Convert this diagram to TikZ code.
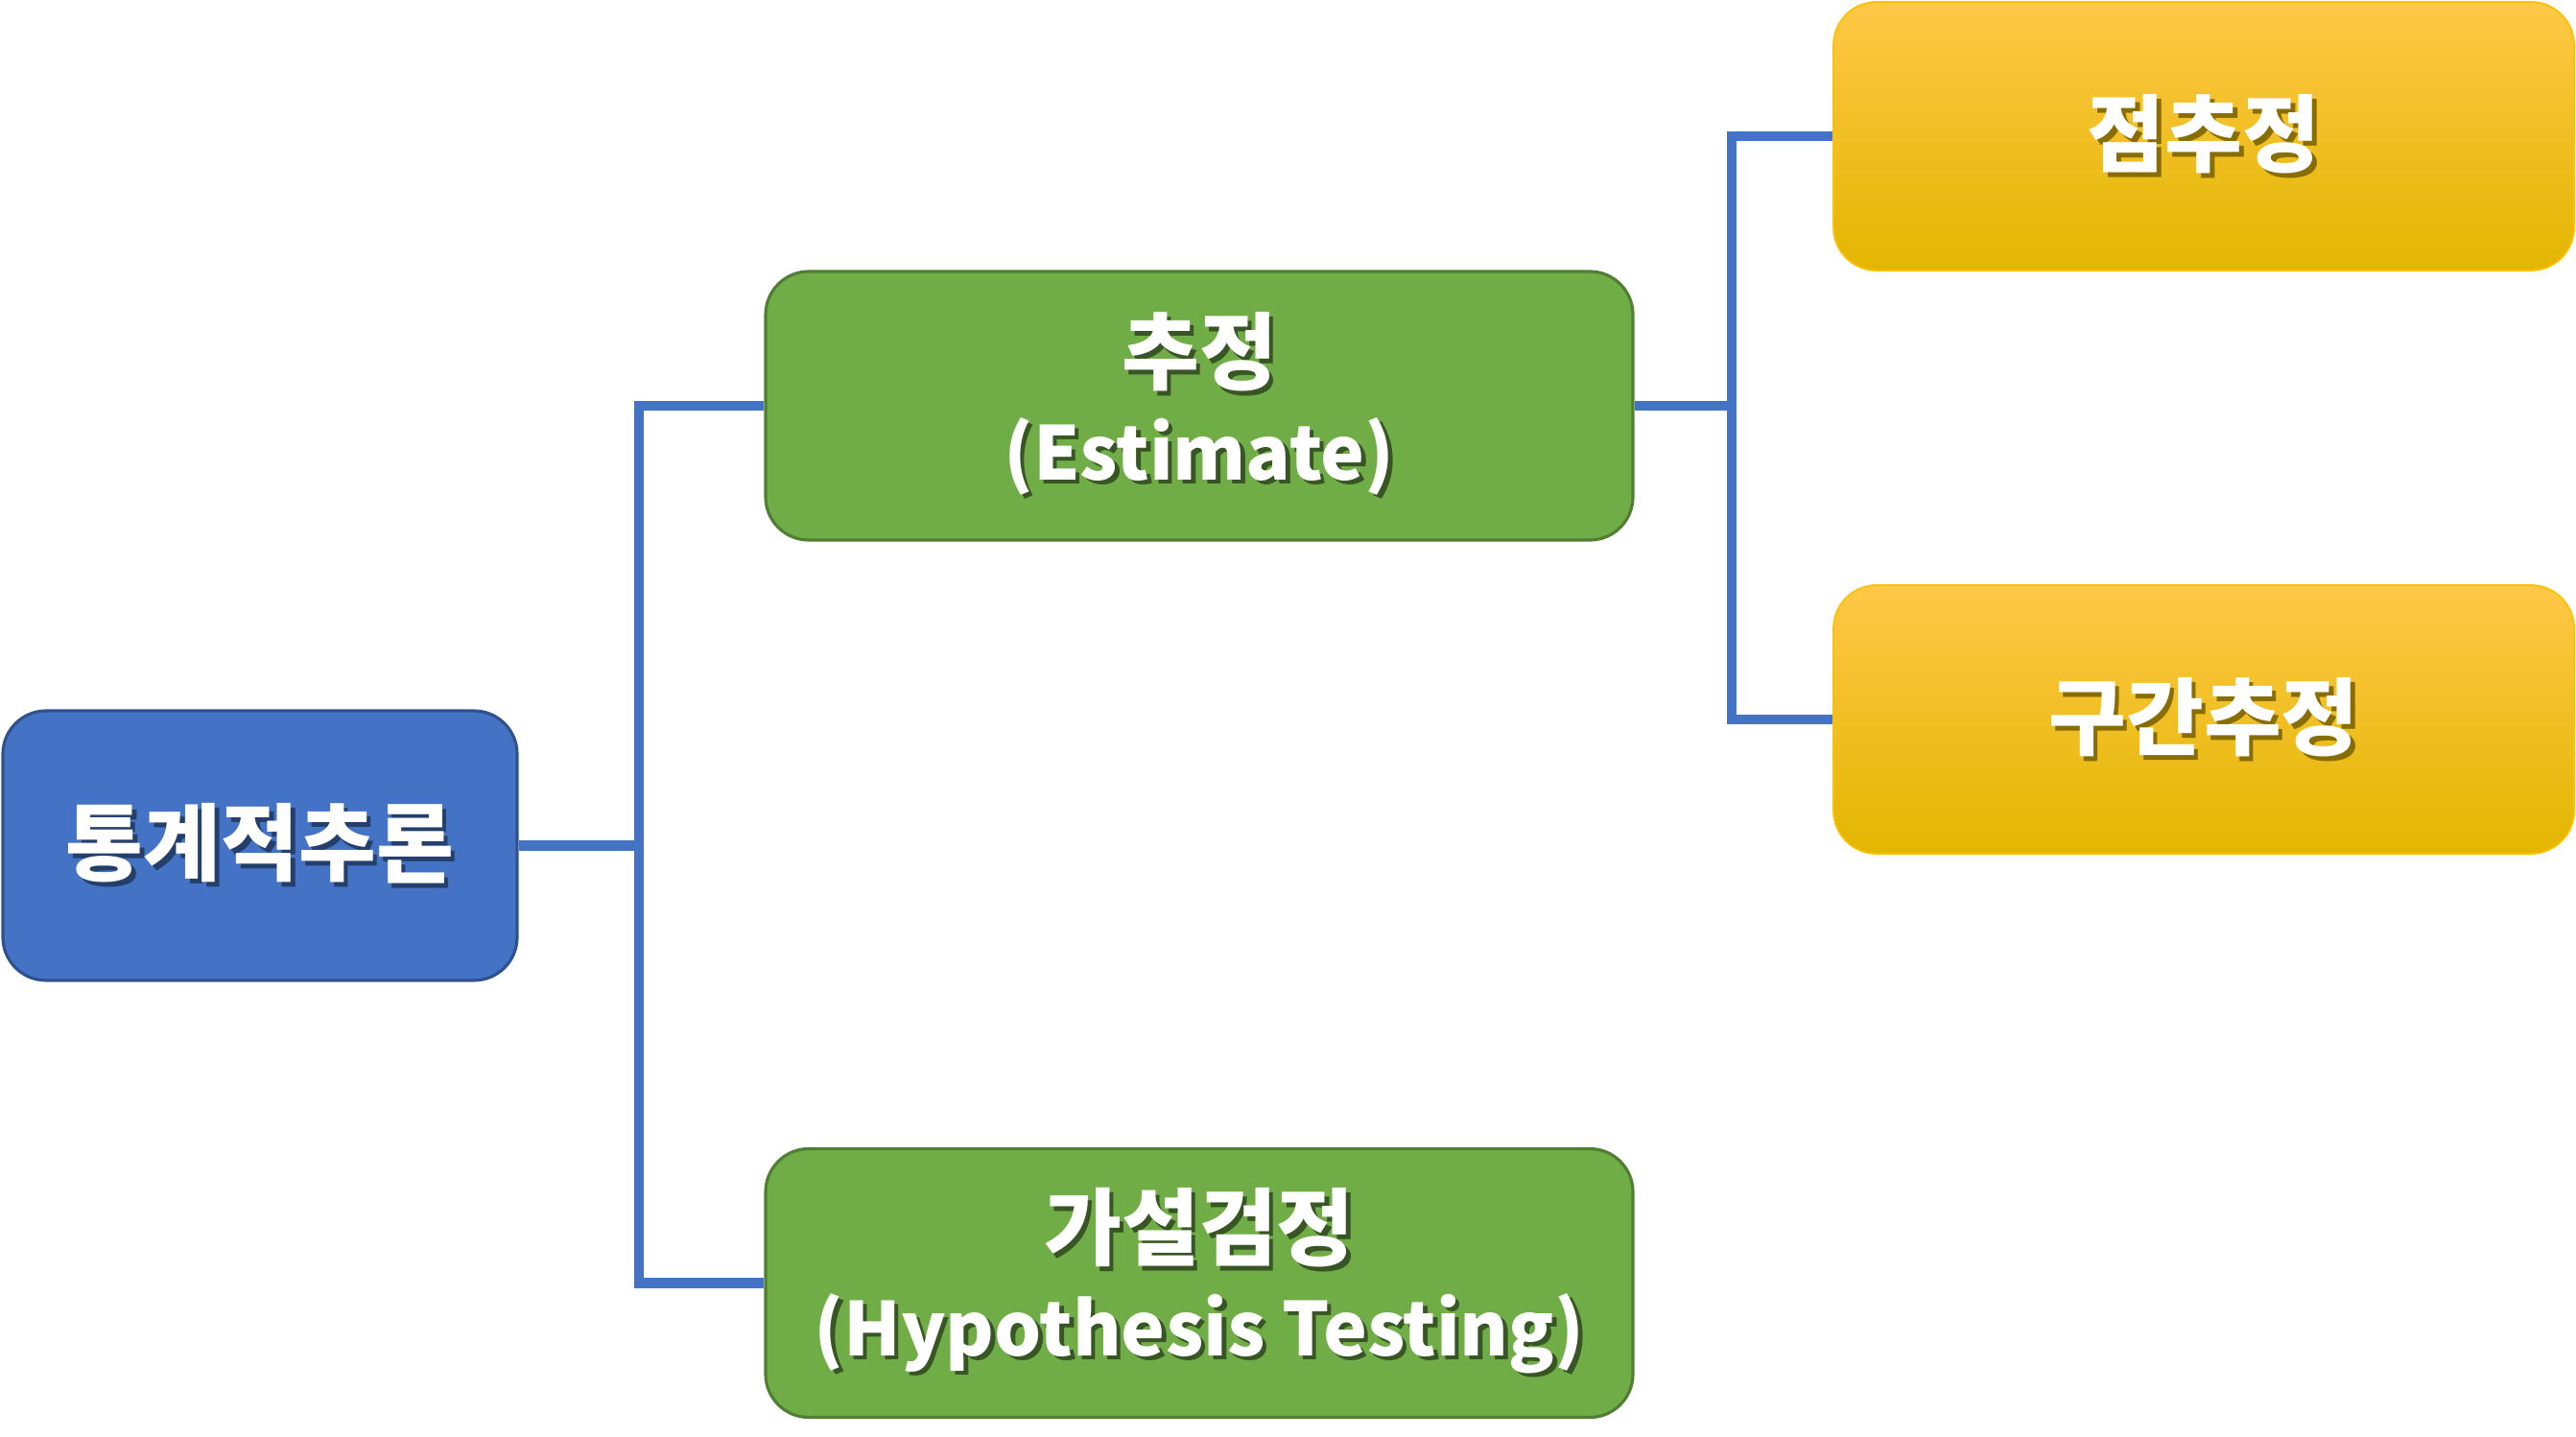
\documentclass[tikz,border=0pt]{standalone}
\usepackage{fontspec}
\setmainfont{Noto Sans CJK KR}
\usetikzlibrary{positioning}
\definecolor{rootblue}{HTML}{4472C4}
\definecolor{rootedge}{HTML}{2F528F}
\definecolor{midgreen}{HTML}{70AD47}
\definecolor{midedge}{HTML}{507E32}
\definecolor{leaftop}{HTML}{FFC847}
\definecolor{leafmid}{HTML}{FFC400}
\definecolor{leafbot}{HTML}{E2B600}
\definecolor{leafedge}{HTML}{FFC000}
\definecolor{linkblue}{HTML}{4472C4}
% white text with a soft drop shadow
\newcommand\shtxt[2]{\leavevmode\rlap{\kern1.3pt\raisebox{-1.3pt}{\color{#1}#2}}#2}
\newcommand\latline[2]{{\fontsize{22}{28}\selectfont\shtxt{#1}{#2}}}

\begin{document}
\begin{tikzpicture}[
      every node/.style={font=\fontsize{25}{31}\selectfont\bfseries,text=white,align=center},
      rootbox/.style={draw=rootedge,line width=0.9pt,fill=rootblue,rounded corners=0.45cm,minimum width=5.36cm,minimum height=2.81cm},
      midbox/.style={draw=midedge,line width=0.9pt,fill=midgreen,rounded corners=0.45cm,minimum width=9.04cm,minimum height=2.8cm},
      leafbox/.style={draw=leafedge,line width=0.5pt,top color=leaftop,middle color=leafmid,bottom color=leafbot,rounded corners=0.45cm,minimum width=7.72cm,minimum height=2.8cm},
      link/.style={draw=linkblue,line width=3.1pt}]
    \useasboundingbox (0,0) rectangle (26.85,14.97);
    % Root on the left
    \node[rootbox] (root) at (2.71,6.155) {\shtxt{rootblue!55!black}{통계적추론}};
    % Middle column
    \node[midbox] (est) at (12.5,10.74) {\shtxt{midgreen!50!black}{추정}\\[-2.4pt]\latline{midgreen!50!black}{(Estimate)}};
    \node[midbox] (hyp) at (12.5,1.595) {\shtxt{midgreen!50!black}{가설검정}\\[-2.4pt]\latline{midgreen!50!black}{(Hypothesis Testing)}};
    % Right column
    \node[leafbox] (pt) at (22.97,13.55) {\shtxt{leafbot!60!black}{점추정}};
    \node[leafbox] (iv) at (22.97,7.47) {\shtxt{leafbot!60!black}{구간추정}};
    % Junction columns
    \coordinate (j1) at (6.66,0);
    \coordinate (j2) at (18.05,0);
    % root -> estimate / hypothesis testing
    \draw[link] (est.west) -| (j1 |- hyp.west) -- (hyp.west);
    \draw[link] (root.east) -- (root.east -| j1);
    % estimate -> point / interval
    \draw[link] (pt.west) -| (j2 |- iv.west) -- (iv.west);
    \draw[link] (est.east) -- (est.east -| j2);
  \end{tikzpicture}
\end{document}
